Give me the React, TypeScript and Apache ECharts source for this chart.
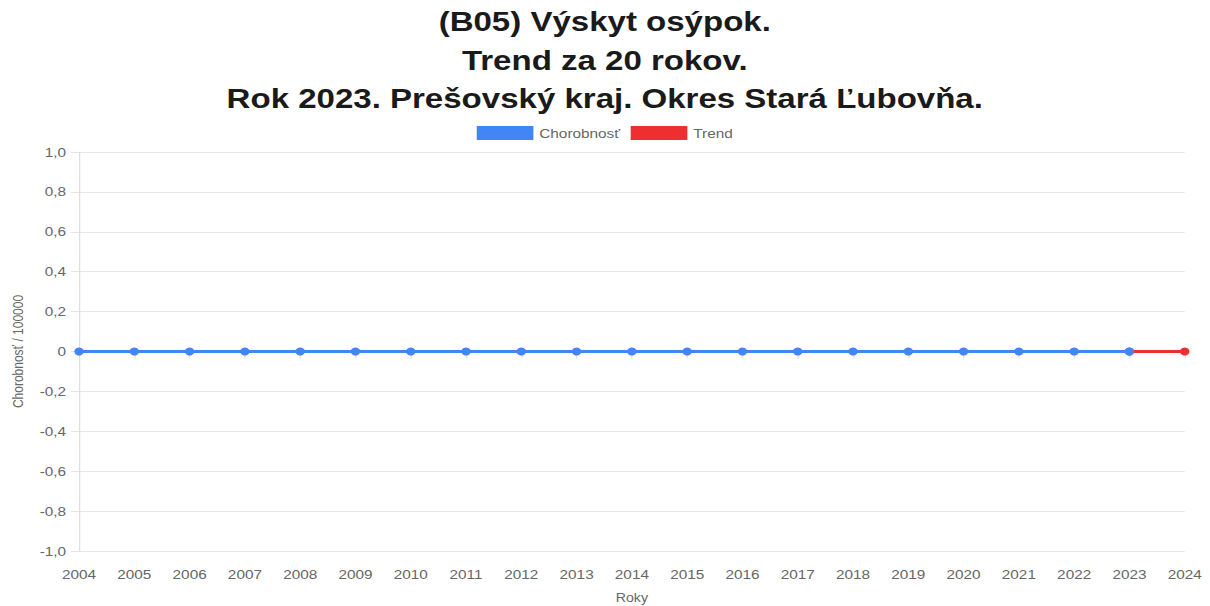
import React, { useEffect, useRef } from "react";
import * as echarts from "echarts";

const titleLines = [
  "(B05) Výskyt osýpok.",
  "Trend za 20 rokov.",
  "Rok 2023. Prešovský kraj. Okres Stará Ľubovňa.",
];
const years = [
  "2004", "2005", "2006", "2007", "2008", "2009", "2010", "2011", "2012", "2013",
  "2014", "2015", "2016", "2017", "2018", "2019", "2020", "2021", "2022", "2023", "2024",
];
const morbidity: (number | null)[] = [
  0, 0, 0, 0, 0, 0, 0, 0, 0, 0, 0, 0, 0, 0, 0, 0, 0, 0, 0, 0, null,
];
const trend: (number | null)[] = [
  null, null, null, null, null, null, null, null, null, null,
  null, null, null, null, null, null, null, null, null, 0, 0,
];
const seriesNames = ["Chorobnosť", "Trend"];
const yAxisName = "Chorobnosť / 100000";
const xAxisName = "Roky";

const SX = 1.18;
const W = 1210 / SX;

export default function App() {
  const ref = useRef<HTMLDivElement>(null);
  useEffect(() => {
    if (!ref.current) return;
    const chart = echarts.init(ref.current, null, { renderer: "svg" });
    const font = "Liberation Sans, Arial, sans-serif";
    chart.setOption({
      animation: false,
      textStyle: { fontFamily: font },
      title: {
        text: titleLines.join("\n"),
        left: "center",
        top: -3,
        textStyle: {
          fontSize: 28,
          fontWeight: "bold",
          color: "#1a1a1a",
          lineHeight: 38.5,
          fontFamily: font,
        },
      },
      legend: {
        top: 121,
        left: "center",
        itemWidth: 48,
        itemHeight: 14,
        itemGap: 9,
        icon: "rect",
        textStyle: { fontSize: 13, color: "#666", fontFamily: font },
        data: seriesNames,
      },
      grid: { left: 67, right: 21, top: 152, bottom: 55, outerBoundsMode: "none" },
      xAxis: {
        type: "category",
        data: years,
        boundaryGap: false,
        name: xAxisName,
        nameLocation: "middle",
        nameGap: 41,
        nameTextStyle: { fontSize: 12, color: "#666" },
        axisLine: { lineStyle: { color: "#dddddd", width: 1 } },
        axisTick: { show: true, length: 7, lineStyle: { color: "#dddddd" } },
        axisLabel: { fontSize: 13, color: "#666", margin: 17 },
        splitLine: { show: false },
      },
      yAxis: {
        type: "value",
        min: -1,
        max: 1,
        interval: 0.2,
        name: yAxisName,
        nameLocation: "middle",
        nameGap: 46,
        nameTextStyle: { fontSize: 12, color: "#666" },
        axisLine: { show: true, lineStyle: { color: "#dddddd" } },
        axisTick: { show: true, length: 7, lineStyle: { color: "#e6e6e6" } },
        axisLabel: {
          fontSize: 13,
          color: "#666",
          margin: 11,
          formatter: (v: number) =>
            Math.abs(v) < 1e-9 ? "0" : v.toFixed(1).replace(".", ","),
        },
        splitLine: { lineStyle: { color: "#e8e8e8" } },
      },
      series: [
        {
          name: seriesNames[0],
          type: "line",
          data: morbidity,
          z: 3,
          color: "#4285f4",
          lineStyle: { width: 3, color: "#4285f4" },
          itemStyle: { color: "#4285f4" },
          symbol: "circle",
          symbolSize: 8,
          showSymbol: true,
        },
        {
          name: seriesNames[1],
          type: "line",
          data: trend,
          z: 2,
          color: "#ee2e31",
          lineStyle: { width: 3, color: "#ee2e31" },
          itemStyle: { color: "#ee2e31" },
          symbol: "circle",
          symbolSize: 8,
          showSymbol: true,
        },
      ],
    });
    return () => chart.dispose();
  }, []);
  return (
    <div style={{ position: "absolute", left: 0, top: 0, width: 1210, height: 606, overflow: "hidden", background: "#fff" }}>
      <div
        ref={ref}
        style={{
          position: "absolute",
          left: 0,
          top: 0,
          width: W,
          height: 606,
          transform: `scaleX(${SX})`,
          transformOrigin: "0 0",
        }}
      />
    </div>
  );
}
